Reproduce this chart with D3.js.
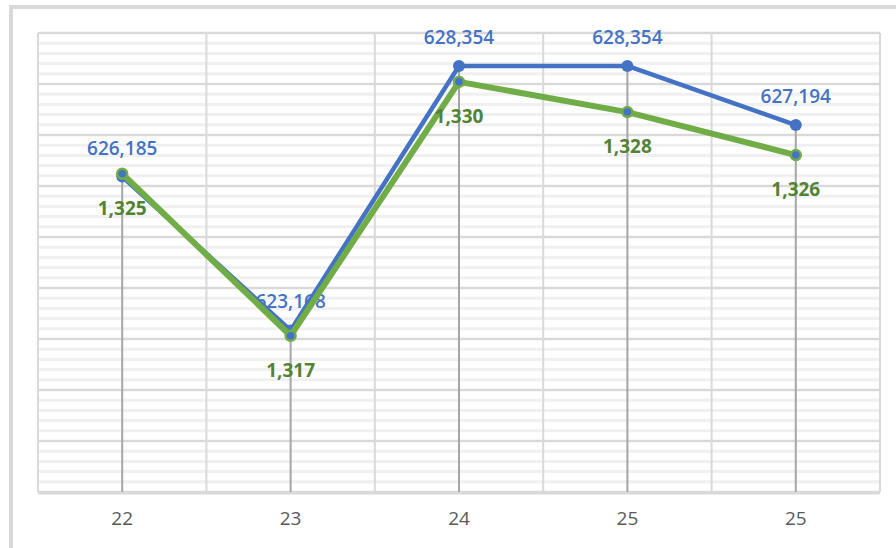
<!DOCTYPE html>
<html>
<head>
<meta charset="utf-8">
<script src="https://cdn.jsdelivr.net/npm/d3@7"></script>
<style>
  body { margin: 0; background: #fff; }
  svg { display: block; }
</style>
</head>
<body>
<div id="chart"></div>
<script>

// data
const categories = ['22', '23', '24', '25', '25b'];
const tickLabels = ['22', '23', '24', '25', '25'];
const blueValues = [626185, 623168, 628354, 628354, 627194];
const greenValues = [1325.3, 1317, 1330, 1328.45, 1326.25];

const width = 896, height = 548;
const plot = { left: 38, right: 880, top: 33, bottom: 492 };

const svg = d3.select('#chart').append('svg')
    .attr('width', width)
    .attr('height', height);

// outer frame (runs off the picture right/bottom)
svg.append('rect')
    .attr('x', 11).attr('y', 7)
    .attr('width', width + 20).attr('height', height + 20)
    .style('fill', 'none')
    .style('stroke', '#d9d9d9')
    .style('stroke-width', 4);

// scales
const x = d3.scaleBand()
    .domain(categories)
    .range([plot.left, plot.right]);

const yBlue = d3.scaleLinear()
    .domain([620000, 629000])
    .range([plot.bottom, plot.top]);

const yGreen = d3.scaleLinear()
    .domain([1309, 1332.5])
    .range([plot.bottom, plot.top]);

const cx = (d, i) => x(categories[i]) + x.bandwidth() / 2;

const grid = svg.append('g');

// minor horizontal gridlines
grid.selectAll('.minor')
    .data(yBlue.ticks(45))
    .join('line')
    .attr('x1', plot.left).attr('x2', plot.right)
    .attr('y1', d => yBlue(d)).attr('y2', d => yBlue(d))
    .style('stroke', '#f0f0f0')
    .style('stroke-width', 3);

// major horizontal gridlines
grid.selectAll('.major')
    .data(yBlue.ticks(9))
    .join('line')
    .attr('x1', plot.left).attr('x2', plot.right)
    .attr('y1', d => yBlue(d)).attr('y2', d => yBlue(d))
    .style('stroke', '#d9d9d9')
    .style('stroke-width', 2);

// vertical gridlines at category edges
const edges = categories.map(c => x(c)).concat([plot.right]);
grid.selectAll('.vgrid')
    .data(edges)
    .join('line')
    .attr('x1', d => d).attr('x2', d => d)
    .attr('y1', plot.top).attr('y2', plot.bottom)
    .style('stroke', '#d9d9d9')
    .style('stroke-width', 2);

// x axis line
svg.append('line')
    .attr('x1', plot.left).attr('x2', plot.right)
    .attr('y1', plot.bottom + 1).attr('y2', plot.bottom + 1)
    .style('stroke', '#d9d9d9')
    .style('stroke-width', 3);

// drop lines
svg.append('g').selectAll('line')
    .data(categories)
    .join('line')
    .attr('x1', (d, i) => cx(d, i)).attr('x2', (d, i) => cx(d, i))
    .attr('y1', (d, i) => Math.min(yBlue(blueValues[i]), yGreen(greenValues[i])))
    .attr('y2', plot.bottom)
    .style('stroke', '#a6a6a6')
    .style('stroke-width', 2);

// x tick labels
const xAxis = svg.append('g')
    .attr('transform', `translate(0,${plot.bottom})`)
    .call(d3.axisBottom(x).tickSize(0).tickPadding(20).tickFormat((d, i) => tickLabels[i]));
xAxis.select('.domain').remove();
xAxis.selectAll('text')
    .style('font-family', 'Open Sans, sans-serif')
    .style('font-size', '19px')
    .style('fill', '#595959');

const fmt = d3.format(',.0f');

// blue series
const blueLine = d3.line()
    .x((d, i) => cx(d, i))
    .y(d => yBlue(d));

svg.append('path')
    .attr('d', blueLine(blueValues))
    .style('fill', 'none')
    .style('stroke', '#4472c4')
    .style('stroke-width', 4.5)
    .style('stroke-linejoin', 'round');

svg.append('g').selectAll('circle')
    .data(blueValues)
    .join('circle')
    .attr('cx', (d, i) => cx(d, i))
    .attr('cy', d => yBlue(d))
    .attr('r', 6)
    .style('fill', '#4472c4');

svg.append('g').selectAll('text')
    .data(blueValues)
    .join('text')
    .attr('x', (d, i) => cx(d, i))
    .attr('y', d => yBlue(d) - 22)
    .attr('text-anchor', 'middle')
    .text(d => fmt(d))
    .style('font-family', 'Open Sans, sans-serif')
    .style('font-size', '19px')
    .style('font-weight', 600)
    .style('fill', '#4472c4');

// green series
const greenLine = d3.line()
    .x((d, i) => cx(d, i))
    .y(d => yGreen(d));

svg.append('path')
    .attr('d', greenLine(greenValues))
    .style('fill', 'none')
    .style('stroke', '#70ad47')
    .style('stroke-width', 6)
    .style('stroke-linejoin', 'round');

svg.append('g').selectAll('circle')
    .data(greenValues)
    .join('circle')
    .attr('cx', (d, i) => cx(d, i))
    .attr('cy', d => yGreen(d))
    .attr('r', 5)
    .style('fill', '#4472c4')
    .style('stroke', '#70ad47')
    .style('stroke-width', 2.5);

svg.append('g').selectAll('text')
    .data(greenValues)
    .join('text')
    .attr('x', (d, i) => cx(d, i))
    .attr('y', d => yGreen(d) + 41)
    .attr('text-anchor', 'middle')
    .text(d => fmt(d))
    .style('font-family', 'Open Sans, sans-serif')
    .style('font-size', '19px')
    .style('font-weight', 700)
    .style('fill', '#548235');

</script>
</body>
</html>
